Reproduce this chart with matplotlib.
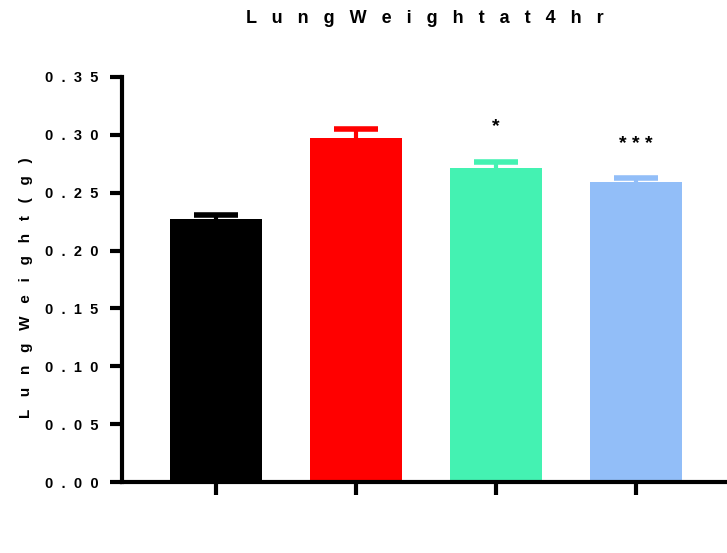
import matplotlib
matplotlib.use("Agg")
import matplotlib.pyplot as plt
import numpy as np

plt.rcParams['font.family'] = ['Liberation Sans', 'DejaVu Sans']

# data
groups = ["G1", "G2", "G3", "G4"]
means = [0.2275, 0.297, 0.271, 0.259]
sems = [0.003, 0.008, 0.0055, 0.004]
stars = ["", "", "*", "***"]
star_y = [None, None, 0.307, 0.292]
colors = ["#000000", "#FF0000", "#44F2B2", "#92BEF8"]
yticks = [0.00, 0.05, 0.10, 0.15, 0.20, 0.25, 0.30, 0.35]


def spaced(s, gap=3):
    # letter-spaced text, word breaks get the same gap
    return (" " * gap).join(s.replace(" ", ""))


fig = plt.figure(figsize=(7.27, 5.53), dpi=100)
ax = fig.add_axes([0.168, 0.128, 0.832, 0.733])

x = np.arange(len(groups))
ax.bar(x, means, width=0.66, color=colors, zorder=2)
# upper error bars only
ax.vlines(x, means, np.add(means, sems), colors=colors, linewidth=3, zorder=1)
ax.hlines(np.add(means, sems), x - 0.157, x + 0.157, colors=colors,
          linewidth=4, zorder=1)
for xi, s, sy in zip(x, stars, star_y):
    if s:
        ax.text(xi, sy, " ".join(s), ha="center", va="center",
                fontsize=14, fontweight="bold")

ax.set_xlim(-0.67, 3.65)
ax.set_ylim(0, 0.35)
ax.set_yticks(yticks)
ax.set_yticklabels([spaced(f"{v:.2f}", 2) for v in yticks],
                   fontsize=10.5, fontweight="bold")
ax.set_xticks(x)
ax.set_xticklabels([])
ax.tick_params(width=3, length=9)
ax.tick_params(axis="y", pad=8)
for side in ["top", "right"]:
    ax.spines[side].set_visible(False)
for side in ["left", "bottom"]:
    ax.spines[side].set_linewidth(3)

ax.set_ylabel(spaced("Lung Weight (g)"), fontsize=11, fontweight="bold")
ax.yaxis.set_label_coords(-0.148, 0.48)
fig.text(0.585, 0.967, spaced("Lung Weight at 4 hr"), ha="center",
         va="center", fontsize=13, fontweight="bold")

fig.savefig("out.png", dpi=100)
